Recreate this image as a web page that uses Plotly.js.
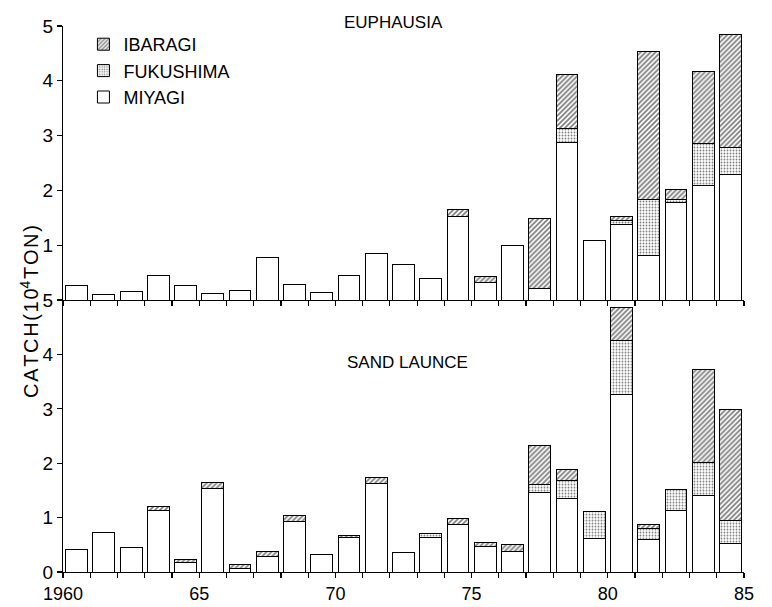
<!DOCTYPE html>
<html>
<head>
<meta charset="utf-8">
<script src="https://cdn.plot.ly/plotly-3.0.1.min.js"></script>
<style>html,body{margin:0;padding:0;background:#fff;}#chart{width:772px;height:607px;}</style>
</head>
<body>
<div id="chart"></div>
<script>
// Data (catch in 10^4 ton)
var years = [1960,1961,1962,1963,1964,1965,1966,1967,1968,1969,1970,1971,1972,1973,1974,1975,1976,1977,1978,1979,1980,1981,1982,1983,1984];

var euMiyagi    = [0.26,0.11,0.16,0.44,0.26,0.12,0.18,0.78,0.29,0.13,0.44,0.85,0.65,0.39,1.53,0.32,0.99,0.21,2.88,1.09,1.38,0.82,1.78,2.09,2.29];
var euFukushima = [0,0,0,0,0,0,0,0,0,0,0,0,0,0,0,0,0,0,0.25,0,0.08,1.02,0.06,0.77,0.49];
var euIbaragi   = [0,0,0,0,0,0,0,0,0,0,0,0,0,0,0.12,0.11,0,1.27,0.99,0,0.07,2.70,0.18,1.31,2.06];

var slMiyagi    = [0.41,0.72,0.45,1.14,0.17,1.53,0.06,0.28,0.93,0.32,0.64,1.63,0.36,0.64,0.88,0.46,0.37,1.47,1.35,0.61,3.26,0.60,1.14,1.40,0.52];
var slFukushima = [0,0,0,0,0,0,0,0,0,0,0,0,0,0.06,0,0,0,0.13,0.34,0.51,0.99,0.20,0.38,0.61,0.43];
var slIbaragi   = [0,0,0,0.07,0.06,0.12,0.08,0.09,0.10,0,0.03,0.10,0,0,0.10,0.09,0.14,0.73,0.19,0,0.61,0.08,0,1.72,2.03];

var tickYears = [1960,1965,1970,1975,1980,1985];
var tickLabels = ["1960","65","70","75","80","85"];

var FONT = "Liberation Sans, Arial, sans-serif";

var styles = {
  MIYAGI:    {color:'#ffffff', pattern:{shape:''}},
  FUKUSHIMA: {color:'#ffffff', pattern:{shape:'.', size:3, solidity:0.3, fgcolor:'#000000', bgcolor:'#ffffff', fillmode:'overlay'}},
  IBARAGI:   {color:'#ffffff', pattern:{shape:'/', size:3.5, solidity:0.5, fgcolor:'#000000', bgcolor:'#ffffff', fillmode:'overlay'}}
};

function bar(name, vals, xa, ya, show) {
  var st = styles[name];
  return {
    type:'bar', name:name, x:years,
    y:vals.map(function(v){ return v === 0 ? null : v; }),
    xaxis:xa, yaxis:ya,
    width:0.8, offset:0.1, legendgroup:name, showlegend:show,
    marker:{color:st.color, pattern:st.pattern, line:{color:'#000', width:1}},
    hoverinfo:'x+y+name'
  };
}

var data = [
  bar('MIYAGI', euMiyagi, 'x2', 'y2', true),
  bar('FUKUSHIMA', euFukushima, 'x2', 'y2', true),
  bar('IBARAGI', euIbaragi, 'x2', 'y2', true),
  bar('MIYAGI', slMiyagi, 'x', 'y', false),
  bar('FUKUSHIMA', slFukushima, 'x', 'y', false),
  bar('IBARAGI', slIbaragi, 'x', 'y', false)
];

var split = 0.498;

var xCommon = {
  range:[1960,1985], showline:true, linecolor:'#000', linewidth:1.2,
  showgrid:false, zeroline:false, ticks:'outside', ticklen:5, tickcolor:'#000', tickwidth:1.2,
  tickmode:'array', tickvals:tickYears, ticktext:tickLabels,
  minor:{dtick:1, tick0:1960, ticks:'outside', ticklen:5, tickcolor:'#000', tickwidth:1.2, showgrid:false},
  tickfont:{family:FONT, size:18, color:'#000'}
};

var layout = {
  width:772, height:607,
  margin:{l:63, r:28, t:26, b:35},
  paper_bgcolor:'#fff', plot_bgcolor:'#fff',
  barmode:'stack', bargap:0.2,
  font:{family:FONT, color:'#000'},
  showlegend:true,
  legend:{x:0.03, y:1.0, xanchor:'left', yanchor:'top', traceorder:'reversed',
          tracegroupgap:4, bgcolor:'rgba(0,0,0,0)', font:{family:FONT, size:18, color:'#000'}},
  xaxis: Object.assign({}, xCommon, {anchor:'y', domain:[0,1]}),
  xaxis2: Object.assign({}, xCommon, {anchor:'y2', domain:[0,1], matches:'x', showticklabels:false}),
  yaxis: {domain:[0,split], range:[0,5], tickvals:[0,1,2,3,4,5], showline:true, linecolor:'#000', linewidth:1.2,
          showgrid:false, zeroline:false, ticks:'outside', ticklen:5, tickwidth:1.2, tickcolor:'#000',
          tickfont:{family:FONT, size:19, color:'#000'}},
  yaxis2: {domain:[split,1], range:[0,5], tickvals:[1,2,3,4,5], showline:true, linecolor:'#000', linewidth:1.2,
          showgrid:false, zeroline:false, ticks:'outside', ticklen:5, tickwidth:1.2, tickcolor:'#000',
          tickfont:{family:FONT, size:19, color:'#000'}},
  annotations:[
    {text:'EUPHAUSIA', xref:'paper', yref:'paper', x:0.486, y:1.007, xanchor:'center', yanchor:'middle',
     showarrow:false, font:{family:FONT, size:17, color:'#000'}},
    {text:'SAND LAUNCE', xref:'paper', yref:'paper', x:0.506, y:0.384, xanchor:'center', yanchor:'middle',
     showarrow:false, font:{family:FONT, size:17, color:'#000'}},
    {text:'C\u200AA\u200AT\u200AC\u200AH\u200A(\u200A1\u200A0<sup>4</sup>\u200AT\u200AO\u200AN\u200A)', xref:'paper', yref:'paper',
     x:-0.05, y:0.478, xanchor:'center', yanchor:'middle', textangle:-90,
     showarrow:false, font:{family:FONT, size:20, color:'#000'}}
  ]
};

Plotly.newPlot('chart', data, layout, {displayModeBar:false, staticPlot:true});
</script>
</body>
</html>
